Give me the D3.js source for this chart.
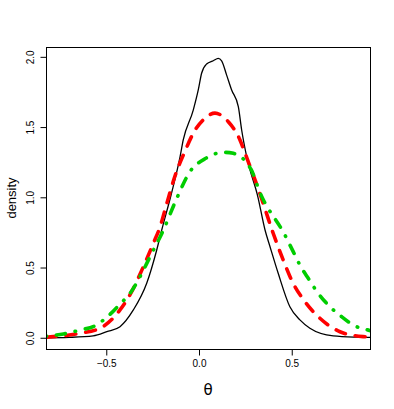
<!DOCTYPE html>
<html>
<head>
<meta charset="utf-8">
<script src="https://cdn.jsdelivr.net/npm/d3@7"></script>
<style>
  body { margin: 0; background: #fff; }
  svg { display: block; font-family: "Liberation Sans", Arial, sans-serif; }
</style>
</head>
<body>
<svg width="394" height="409"></svg>
<script>
// density estimates: [theta, density]
var blackCurve = [
  [-0.825, 0.0], [-0.70, 0.003], [-0.571, 0.013], [-0.497, 0.043], [-0.426, 0.079],
  [-0.354, 0.198], [-0.282, 0.388], [-0.228, 0.625], [-0.201, 0.767], [-0.15, 1.02],
  [-0.102, 1.289], [-0.085, 1.408], [-0.031, 1.621], [-0.004, 1.764], [0.014, 1.883],
  [0.041, 1.949], [0.077, 1.972], [0.104, 1.989], [0.122, 1.972], [0.149, 1.870],
  [0.176, 1.764], [0.212, 1.645], [0.230, 1.479], [0.257, 1.289], [0.318, 1.0],
  [0.356, 0.767], [0.383, 0.648], [0.427, 0.459], [0.490, 0.221], [0.544, 0.127],
  [0.598, 0.068], [0.724, 0.013], [0.850, 0.004], [0.925, 0.002]
];
var redCurve = [
  [-0.825, 0.004], [-0.785, 0.008], [-0.641, 0.032], [-0.533, 0.068], [-0.426, 0.198],
  [-0.363, 0.328], [-0.300, 0.506], [-0.246, 0.673], [-0.210, 0.79], [-0.175, 0.95],
  [-0.13, 1.15], [-0.075, 1.33], [-0.031, 1.456], [0.03, 1.56], [0.086, 1.599],
  [0.158, 1.538], [0.221, 1.408], [0.248, 1.315], [0.33, 1.02], [0.400, 0.744],
  [0.454, 0.554], [0.499, 0.411], [0.571, 0.257], [0.652, 0.139], [0.760, 0.043],
  [0.885, 0.008], [0.925, 0.005]
];
var greenCurve = [
  [-0.825, 0.012], [-0.731, 0.027], [-0.641, 0.055], [-0.560, 0.086], [-0.497, 0.146],
  [-0.426, 0.240], [-0.372, 0.316], [-0.318, 0.435], [-0.264, 0.577], [-0.192, 0.767],
  [-0.124, 0.98], [-0.05, 1.18], [0.04, 1.28], [0.095, 1.313], [0.14, 1.32],
  [0.185, 1.313], [0.28, 1.2], [0.33, 1.03], [0.463, 0.732], [0.508, 0.613],
  [0.544, 0.518], [0.589, 0.423], [0.643, 0.316], [0.706, 0.221], [0.769, 0.150],
  [0.841, 0.084], [0.921, 0.051], [0.925, 0.049]
];

var xTicks = [-0.5, 0.0, 0.5];
var yTicks = [0.0, 0.5, 1.0, 1.5, 2.0];

var svg = d3.select("svg"),
    margin = {top: 47, right: 24, bottom: 60, left: 46},
    width = +svg.attr("width") - margin.left - margin.right,
    height = +svg.attr("height") - margin.top - margin.bottom,
    g = svg.append("g").attr("transform", "translate(" + margin.left + "," + margin.top + ")");

var x = d3.scaleLinear().domain([-0.825, 0.922]).range([0, width]),
    y = d3.scaleLinear().domain([-0.08, 2.07]).range([height, 0]);

var line = d3.line()
    .curve(d3.curveMonotoneX)
    .x(function(d) { return x(d[0]); })
    .y(function(d) { return y(d[1]); });

svg.append("clipPath").attr("id", "plotclip")
  .append("rect").attr("width", width).attr("height", height);

var curves = g.append("g").attr("clip-path", "url(#plotclip)");

curves.append("path")
    .attr("d", line(blackCurve))
    .attr("fill", "none")
    .attr("stroke", "#000")
    .attr("stroke-width", 1.3);

curves.append("path")
    .attr("d", line(redCurve))
    .attr("fill", "none")
    .attr("stroke", "#ff0000")
    .attr("stroke-width", 3.6)
    .attr("stroke-linecap", "round")
    .attr("stroke-dasharray", "10,10");

curves.append("path")
    .attr("d", line(greenCurve))
    .attr("fill", "none")
    .attr("stroke", "#00cd00")
    .attr("stroke-width", 3.6)
    .attr("stroke-linecap", "round")
    .attr("stroke-dasharray", "0.5,10,9,10");

// box
g.append("rect")
    .attr("x", 0.5).attr("y", 0.5)
    .attr("width", width).attr("height", height)
    .attr("fill", "none")
    .attr("stroke", "#000")
    .attr("stroke-width", 1);

// x axis
var xAxis = g.append("g")
    .attr("transform", "translate(0," + (height + 0.5) + ")")
    .call(d3.axisBottom(x).tickValues(xTicks).tickSize(6).tickPadding(4)
      .tickFormat(function(d) { return d === 0 ? "0.0" : d3.format(".1f")(d); }));
xAxis.select(".domain").attr("d", "M" + x(-0.5) + ",0H" + x(0.5));
xAxis.selectAll("text").attr("font-size", "10px").attr("fill", "#000")
    .attr("font-family", "Liberation Sans, Arial, sans-serif");

// y axis
var yAxis = g.append("g")
    .attr("transform", "translate(0.5,0)")
    .call(d3.axisLeft(y).tickValues(yTicks).tickSize(6)
      .tickFormat(d3.format(".1f")));
yAxis.select(".domain").attr("d", "M0," + y(0) + "V" + y(2));
yAxis.selectAll(".tick text")
    .attr("font-size", "10px").attr("fill", "#000")
    .attr("font-family", "Liberation Sans, Arial, sans-serif")
    .attr("text-anchor", "middle")
    .attr("x", null).attr("dy", null)
    .attr("transform", "translate(-13,0) rotate(-90)");

// axis titles
svg.append("text")
    .attr("transform", "translate(16," + (margin.top + height / 2) + ") rotate(-90)")
    .attr("text-anchor", "middle")
    .attr("font-size", "13px")
    .attr("fill", "#000")
    .text("density");

svg.append("text")
    .attr("x", margin.left + width / 2)
    .attr("y", 395)
    .attr("text-anchor", "middle")
    .attr("font-family", "DejaVu Sans, sans-serif")
    .attr("font-size", "15px")
    .attr("fill", "#000")
    .text("θ");
</script>
</body>
</html>
